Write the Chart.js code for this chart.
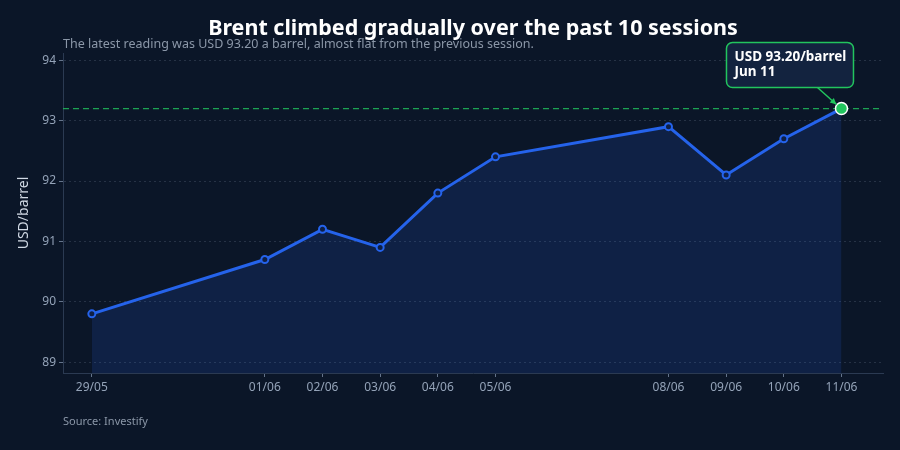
<!DOCTYPE html>
<html>
<head>
    <meta charset="utf-8">
    <title>Brent 10 sessions</title>
    <style>
        html, body {
            margin: 0;
            padding: 0;
            background-color: #0b1628;
        }
        #chart-container {
            width: 900px;
            height: 450px;
        }
    </style>
</head>
<body>
    <div id="chart-container">
        <canvas id="myChart"></canvas>
    </div>
    <script src="https://cdn.jsdelivr.net/npm/chart.js"></script>
    <script>
        // Data
        const dateLabels = ['29/05', '01/06', '02/06', '03/06', '04/06', '05/06', '08/06', '09/06', '10/06', '11/06'];
        const dayOffsets = [0, 3, 4, 5, 6, 7, 10, 11, 12, 13]; // days since 29/05
        const brentPrices = [89.8, 90.7, 91.2, 90.9, 91.8, 92.4, 92.9, 92.1, 92.7, 93.2];
        const yTicks = [89, 90, 91, 92, 93, 94];

        const titleText = 'Brent climbed gradually over the past 10 sessions';
        const subtitleText = 'The latest reading was USD 93.20 a barrel, almost flat from the previous session.';
        const sourceText = 'Source: Investify';
        const calloutLines = ['USD 93.20/barrel', 'Jun 11'];

        const FONT = '"Noto Sans", "DejaVu Sans", sans-serif';
        const lastIdx = brentPrices.length - 1;
        const lastValue = brentPrices[lastIdx];

        const xMin = -0.5, xMax = 13.72;

        const points = dayOffsets.map((d, i) => ({ x: d, y: brentPrices[i] }));
        const latestLine = [{ x: xMin, y: lastValue }, { x: xMax, y: lastValue }];

        // titles, source and the callout box
        const textPlugin = {
            id: 'texts',
            afterDraw(chart) {
                const c = chart.ctx;
                const area = chart.chartArea;
                c.save();
                c.textBaseline = 'alphabetic';

                c.fillStyle = '#ffffff';
                c.font = 'bold 21.5px ' + FONT;
                c.textAlign = 'center';
                c.fillText(titleText, (area.left + area.right) / 2, 35);

                c.fillStyle = '#8b97a8';
                c.font = '12.5px ' + FONT;
                c.textAlign = 'left';
                c.fillText(subtitleText, area.left, 47.5);

                c.font = '11px ' + FONT;
                c.fillText(sourceText, area.left, 425);

                // callout for the latest point
                const meta = chart.getDatasetMeta(0);
                const pt = meta.data[lastIdx];
                const bx = pt.x - 115, by = pt.y - 66, bw = 127, bh = 45;
                c.beginPath();
                c.roundRect(bx, by, bw, bh, 6);
                c.fillStyle = '#13233f';
                c.fill();
                c.lineWidth = 1.5;
                c.strokeStyle = '#22c55e';
                c.stroke();

                c.fillStyle = '#ffffff';
                c.font = 'bold 13.5px ' + FONT;
                c.textBaseline = 'middle';
                c.fillText(calloutLines[0], bx + 8, by + 14.5);
                c.fillText(calloutLines[1], bx + 8, by + 29.5);

                // arrow
                const ax = pt.x - 24, ay = by + bh;
                const tx = pt.x - 5, ty = pt.y - 4;
                c.beginPath();
                c.moveTo(ax, ay);
                c.lineTo(tx, ty);
                c.strokeStyle = '#22c55e';
                c.lineWidth = 1.5;
                c.stroke();
                const ang = Math.atan2(ty - ay, tx - ax);
                c.beginPath();
                c.moveTo(tx, ty);
                c.lineTo(tx - 7 * Math.cos(ang - 0.45), ty - 7 * Math.sin(ang - 0.45));
                c.lineTo(tx - 7 * Math.cos(ang + 0.45), ty - 7 * Math.sin(ang + 0.45));
                c.closePath();
                c.fillStyle = '#22c55e';
                c.fill();
                c.restore();
            }
        };

        const ctx = document.getElementById('myChart').getContext('2d');
        const myChart = new Chart(ctx, {
            type: 'line',
            data: {
                datasets: [{
                    label: 'Brent',
                    data: points,
                    borderColor: '#2563eb',
                    borderWidth: 3,
                    backgroundColor: 'rgba(37, 99, 235, 0.15)',
                    fill: 'start',
                    tension: 0,
                    pointRadius: c => c.dataIndex === lastIdx ? 6 : 3.5,
                    pointBorderWidth: c => c.dataIndex === lastIdx ? 1.5 : 2,
                    pointBackgroundColor: c => c.dataIndex === lastIdx ? '#22c55e' : '#0f1f45',
                    pointBorderColor: c => c.dataIndex === lastIdx ? '#ffffff' : '#2563eb',
                    order: 1
                }, {
                    label: 'Latest',
                    data: latestLine,
                    borderColor: 'rgba(34, 197, 94, 0.8)',
                    borderWidth: 1.3,
                    borderDash: [6, 4],
                    pointRadius: 0,
                    fill: false,
                    order: 2
                }]
            },
            options: {
                responsive: true,
                maintainAspectRatio: false,
                animation: false,
                layout: {
                    padding: { top: 53, right: 17, bottom: 0, left: 16 }
                },
                plugins: {
                    legend: { display: false },
                    tooltip: { enabled: false }
                },
                scales: {
                    x: {
                        type: 'linear',
                        min: xMin,
                        max: xMax,
                        afterFit(scale) { scale.height = 77; },
                        afterBuildTicks(scale) {
                            scale.ticks = dayOffsets.map(v => ({ value: v }));
                        },
                        ticks: {
                            color: '#94a3b8',
                            font: { family: FONT, size: 12 },
                            padding: 3,
                            maxRotation: 0,
                            autoSkip: false,
                            callback: (value) => dateLabels[dayOffsets.indexOf(value)]
                        },
                        grid: {
                            drawOnChartArea: false,
                            drawTicks: true,
                            tickLength: 4,
                            tickColor: '#64748b'
                        },
                        border: { color: '#2b3a52', width: 1 }
                    },
                    y: {
                        min: 88.82,
                        max: 94.12,
                        afterFit(scale) { scale.width = 47; },
                        afterBuildTicks(scale) {
                            scale.ticks = yTicks.map(v => ({ value: v }));
                        },
                        title: {
                            display: true,
                            text: 'USD/barrel',
                            color: '#d1d9e4',
                            font: { family: FONT, size: 14 },
                            padding: { top: 0, bottom: 4 }
                        },
                        ticks: {
                            color: '#94a3b8',
                            font: { family: FONT, size: 12 },
                            padding: 3
                        },
                        grid: {
                            color: 'rgba(148, 163, 184, 0.2)',
                            tickBorderDash: [],
                            tickLength: 4,
                            tickColor: '#64748b'
                        },
                        border: { color: '#2b3a52', width: 1, dash: [2, 3] }
                    }
                }
            },
            plugins: [textPlugin]
        });
    </script>
</body>
</html>
